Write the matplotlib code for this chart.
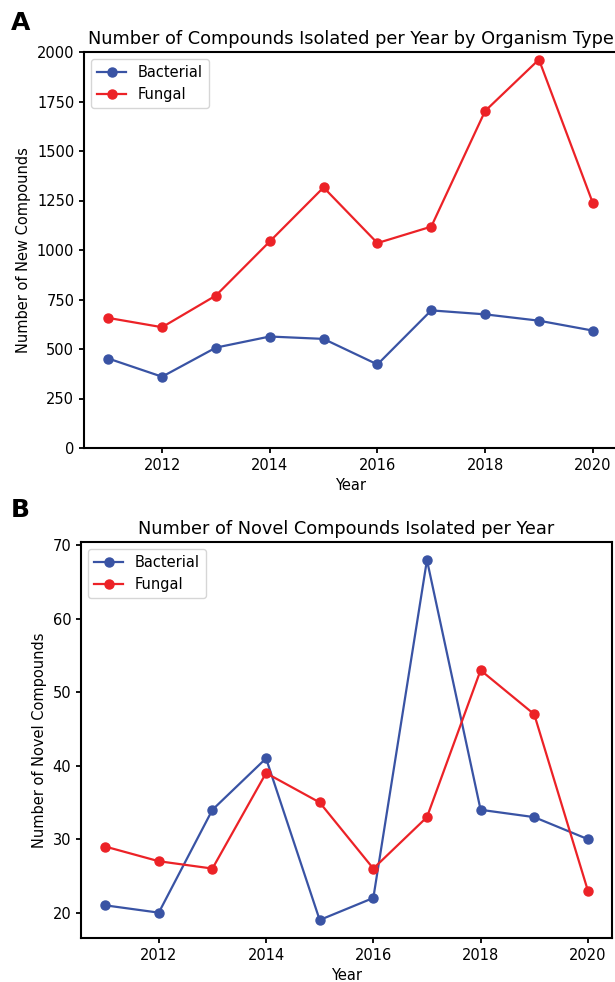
import matplotlib.pyplot as plt

plt.rcParams["font.family"] = ["DejaVu Sans"]

years = [2011, 2012, 2013, 2014, 2015, 2016, 2017, 2018, 2019, 2020]

# panel A: all new compounds
bact_all = [452, 360, 507, 563, 551, 422, 695, 675, 643, 593]
fung_all = [657, 610, 770, 1043, 1316, 1035, 1118, 1702, 1962, 1238]

# panel B: novel compounds
bact_novel = [21, 20, 34, 41, 19, 22, 68, 34, 33, 30]
fung_novel = [29, 27, 26, 39, 35, 26, 33, 53, 47, 23]

blue = "#3953a4"
red = "#ec2227"

W, H = 615, 982
fig = plt.figure(figsize=(W / 100, H / 100), dpi=100)

axA = fig.add_axes([84 / W, 1 - 448 / H, 533 / W, 396 / H])
axB = fig.add_axes([81 / W, 1 - 938 / H, 531 / W, 396 / H])

axA.plot(years, bact_all, "-o", color=blue, lw=1.6, ms=6.5, label="Bacterial")
axA.plot(years, fung_all, "-o", color=red, lw=1.6, ms=6.5, label="Fungal")
axA.set_ylim(0, 2000)
axA.set_title("Number of Compounds Isolated per Year by Organism Type", fontsize=12.8)
axA.set_ylabel("Number of New Compounds", fontsize=10.5)
axA.set_xlabel("Year", fontsize=10.5)
axA.legend(loc="upper left", fontsize=10.5)

axB.plot(years, bact_novel, "-o", color=blue, lw=1.6, ms=6.5, label="Bacterial")
axB.plot(years, fung_novel, "-o", color=red, lw=1.6, ms=6.5, label="Fungal")
axB.set_title("Number of Novel Compounds Isolated per Year", fontsize=12.8)
axB.set_ylabel("Number of Novel Compounds", fontsize=10.5)
axB.set_xlabel("Year", fontsize=10.5)
axB.legend(loc="upper left", fontsize=10.5)

for ax in (axA, axB):
    ax.set_xticks([2012, 2014, 2016, 2018, 2020])
    ax.tick_params(axis="both", which="major", labelsize=10.5, width=1.3)
    for s in ax.spines.values():
        s.set_linewidth(1.5)

fig.text(11 / W, 1 - 23 / H, "A", fontsize=18, fontweight="bold", va="center")
fig.text(11 / W, 1 - 510 / H, "B", fontsize=18, fontweight="bold", va="center")

fig.savefig("out.png", dpi=100)
